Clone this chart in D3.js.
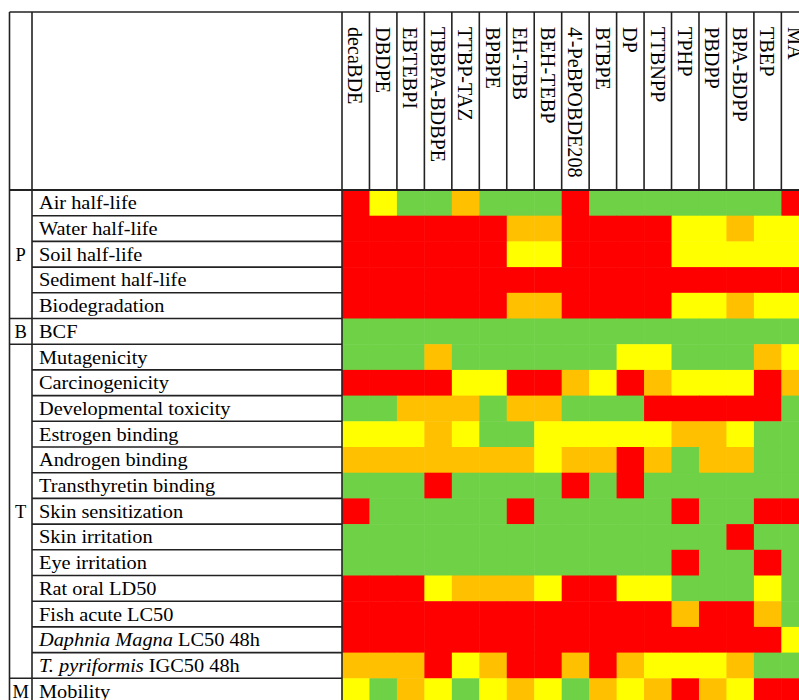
<!DOCTYPE html>
<html>
<head>
<meta charset="utf-8">
<script src="https://cdn.jsdelivr.net/npm/d3@7"></script>
<style>
  body { margin: 0; background: #fff; }
  svg { display: block; }
  text { font-family: "Liberation Serif", "Times New Roman", serif; fill: #000; }
</style>
</head>
<body>
<script>

// compounds (columns), last one is cut off at the right edge
const compounds = ["decaBDE", "DBDPE", "EBTEBPI", "TBBPA-BDBPE", "TTBP-TAZ", "BPBPE", "EH-TBB", "BEH-TEBP",
    "4'-PeBPOBDE208", "BTBPE", "DP", "TTBNPP", "TPHP", "PBDPP", "BPA-BDPP", "TBEP", "MA"];

const endpoints = ["Air half-life", "Water half-life", "Soil half-life", "Sediment half-life", "Biodegradation",
    "BCF", "Mutagenicity", "Carcinogenicity", "Developmental toxicity", "Estrogen binding", "Androgen binding",
    "Transthyretin binding", "Skin sensitization", "Skin irritation", "Eye irritation", "Rat oral LD50",
    "Fish acute LC50", "Daphnia Magna LC50 48h", "T. pyriformis IGC50 48h", "Mobility"];

// italic part of some labels
const italicPart = { "Daphnia Magna LC50 48h": "Daphnia Magna", "T. pyriformis IGC50 48h": "T. pyriformis" };

// P / B / T / M groups: [letter, first row, last row]
const groups = [["P", 0, 4], ["B", 5, 5], ["T", 6, 18], ["M", 19, 19]];

// level codes: R = high concern, O, Y, G = low concern
const levels = ["R", "O", "Y", "G"];
const levelColors = ["#ff0000", "#ffc000", "#ffff00", "#6fd146"];

// one string per endpoint, one letter per compound
const airHalfLife      = "RYGGOGGGRGGGGGGGR";
const waterHalfLife    = "RRRRRROORRRRYYOYY";
const soilHalfLife     = "RRRRRRYYRRRRYYYYY";
const sedimentHalfLife = "RRRRRRRRRRRRRRRRR";
const biodegradation   = "RRRRRROORRRRYYOYY";
const bcf              = "GGGGGGGGGGGGGGGGG";
const mutagenicity     = "GGGOGGGGGGYYGGGOY";
const carcinogenicity  = "RRRRYYRROYROYYYRO";
const developmental    = "GGOOOGOOGGGRRRRRG";
const estrogen         = "YYYOYGGYYYYYOOYGG";
const androgen         = "OOOOOOOYOOROGOOGG";
const transthyretin    = "GGGRGGGGRGRGGGGGG";
const skinSens         = "RGGGGGRGGGGGRGGRR";
const skinIrr          = "GGGGGGGGGGGGGGRGG";
const eyeIrr           = "GGGGGGGGGGGGRGGRG";
const ratOral          = "RRRYOOOYRRYYGGGYG";
const fishAcute        = "RRRRRRRRRRRRORROG";
const daphnia          = "RRRRRRRRRRRRRRRRY";
const tPyriformis      = "OOORYORROROYYYOGG";
const mobility         = "YGOYGYOYGOYOROYRR";

const scores = [airHalfLife, waterHalfLife, soilHalfLife, sedimentHalfLife, biodegradation, bcf,
    mutagenicity, carcinogenicity, developmental, estrogen, androgen, transthyretin, skinSens,
    skinIrr, eyeIrr, ratOral, fishAcute, daphnia, tPyriformis, mobility];

const W = 799, H = 700;
const tableLeft = 9.5, groupRight = 32, gridLeft = 342;
const tableTop = 12, headerBottom = 190;
const colW = 27.46, rowH = 25.7;

const x = d3.scaleBand()
    .domain(compounds)
    .range([gridLeft, gridLeft + colW * compounds.length]);

const y = d3.scaleBand()
    .domain(endpoints)
    .range([headerBottom, headerBottom + rowH * endpoints.length]);

const color = d3.scaleOrdinal().domain(levels).range(levelColors);

const svg = d3.select("body").append("svg")
    .attr("width", W)
    .attr("height", H);

// cells
const cells = [];
scores.forEach((row, i) => {
    row.split("").forEach((c, j) => cells.push({ row: endpoints[i], col: compounds[j], level: c }));
});

svg.append("g").selectAll("rect")
    .data(cells)
    .enter().append("rect")
    .attr("x", d => x(d.col))
    .attr("y", d => y(d.row))
    .attr("width", x.bandwidth() + 0.5)
    .attr("height", y.bandwidth() + 0.5)
    .attr("fill", d => color(d.level));

// table lines
const lines = svg.append("g").attr("stroke", "#222").attr("stroke-width", 1.6);
const gridRight = x.range()[1];
const bottom = y.range()[1];

lines.append("line").attr("x1", tableLeft).attr("x2", gridRight).attr("y1", tableTop).attr("y2", tableTop);
lines.append("line").attr("x1", tableLeft).attr("x2", gridRight).attr("y1", headerBottom).attr("y2", headerBottom)
    .attr("stroke-width", 2.2);
lines.append("line").attr("x1", tableLeft).attr("x2", tableLeft).attr("y1", tableTop).attr("y2", bottom);
lines.append("line").attr("x1", groupRight).attr("x2", groupRight).attr("y1", tableTop).attr("y2", bottom);
lines.append("line").attr("x1", gridLeft).attr("x2", gridLeft).attr("y1", tableTop).attr("y2", bottom);

// header column separators
lines.selectAll(".colsep")
    .data(compounds.slice(1))
    .enter().append("line")
    .attr("class", "colsep")
    .attr("x1", d => x(d)).attr("x2", d => x(d))
    .attr("y1", tableTop).attr("y2", headerBottom);

// row separators (full width at group boundaries)
const groupStarts = groups.map(g => g[1]);
lines.selectAll(".rowsep")
    .data(endpoints.slice(1))
    .enter().append("line")
    .attr("class", "rowsep")
    .attr("x1", (d, i) => groupStarts.includes(i + 1) ? tableLeft : groupRight)
    .attr("x2", gridLeft)
    .attr("y1", d => y(d)).attr("y2", d => y(d));

// header labels, rotated
svg.append("g").selectAll("text")
    .data(compounds)
    .enter().append("text")
    .attr("transform", d => "translate(" + (x(d) + x.bandwidth() / 2) + "," + 27 + ") scale(1.08,1) rotate(90)")
    .attr("dominant-baseline", "central")
    .attr("font-size", 20.2)
    .text(d => d);

// row labels
const labels = svg.append("g").selectAll("text")
    .data(endpoints)
    .enter().append("text")
    .attr("transform", d => "translate(39," + (y(d) + rowH / 2 + 6.5) + ") scale(1.1,1)")
    .attr("font-size", 18.5);

labels.each(function (d) {
    const t = d3.select(this);
    const it = italicPart[d];
    if (it) {
        t.append("tspan").attr("font-style", "italic").text(it);
        t.append("tspan").text(d.slice(it.length));
    } else {
        t.text(d);
    }
});

// group letters
svg.append("g").selectAll("text")
    .data(groups)
    .enter().append("text")
    .attr("x", (tableLeft + groupRight) / 2)
    .attr("y", g => (y(endpoints[g[1]]) + y(endpoints[g[2]]) + rowH) / 2 + 6.5)
    .attr("text-anchor", "middle")
    .attr("font-size", 18.5)
    .text(g => g[0]);

</script>
</body>
</html>
